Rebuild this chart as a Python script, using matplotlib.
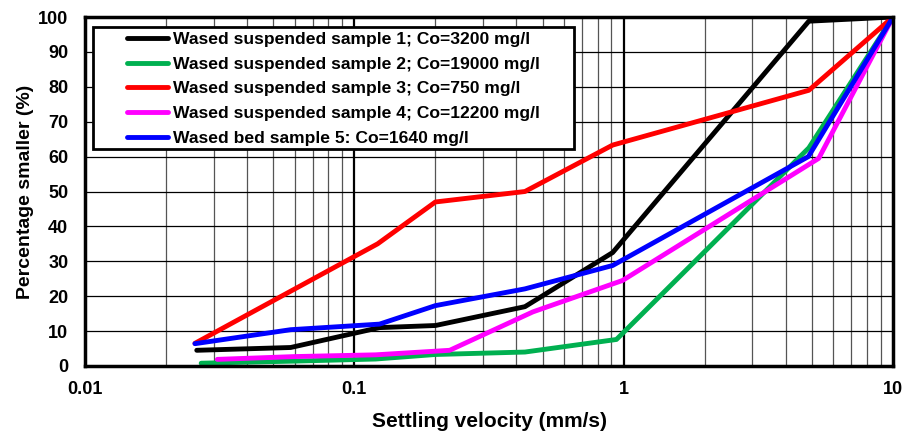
import matplotlib.pyplot as plt
from matplotlib.patches import Rectangle
from matplotlib.legend_handler import HandlerLine2D
from matplotlib.ticker import FixedLocator, FixedFormatter, NullFormatter

plt.rcParams['font.family'] = ['Liberation Sans', 'DejaVu Sans']
plt.rcParams['font.weight'] = 'bold'

v1 = [0.026, 0.058, 0.124, 0.20, 0.43, 0.91, 4.87, 10]
p1 = [4.5, 5.3, 11.0, 11.6, 17.0, 32.5, 98.8, 100]

v2 = [0.027, 0.06, 0.12, 0.20, 0.43, 0.94, 4.87, 10]
p2 = [0.8, 1.4, 2.0, 3.3, 4.0, 7.6, 62.5, 100]

v3 = [0.0256, 0.122, 0.20, 0.43, 0.91, 4.87, 10]
p3 = [6.5, 35.0, 47.0, 50.0, 63.3, 79.0, 100]

v4 = [0.031, 0.06, 0.12, 0.226, 0.46, 0.99, 5.3, 10]
p4 = [1.9, 2.7, 3.2, 4.5, 15.5, 24.5, 59.5, 100]

v5 = [0.0256, 0.058, 0.124, 0.20, 0.43, 0.91, 4.85, 10]
p5 = [6.4, 10.4, 12.0, 17.3, 22.1, 28.8, 60.0, 100]

labels = [
    "Wased suspended sample 1; Co=3200 mg/l",
    "Wased suspended sample 2; Co=19000 mg/l",
    "Wased suspended sample 3; Co=750 mg/l",
    "Wased suspended sample 4; Co=12200 mg/l",
    "Wased bed sample 5: Co=1640 mg/l",
]
colors = ["black", "#00B050", "#FF0000", "#FF00FF", "#0000FF"]

W, H = 908, 434
fig = plt.figure(figsize=(W / 100, H / 100), dpi=100)
ax = fig.add_axes([85 / W, 1 - 366 / H, 808 / W, 349 / H])

# Gitter
for dec in [0.01, 0.1, 1]:
    for k in range(2, 10):
        ax.axvline(dec * k, color="#555555", lw=0.9, zorder=1)
for x in [0.1, 1]:
    ax.axvline(x, color="black", lw=1.6, zorder=1)
for y in range(10, 100, 10):
    ax.axhline(y, color="black", lw=0.9, zorder=1)

lines = []
for v, p, lab, c in zip([v1, v2, v3, v4, v5], [p1, p2, p3, p4, p5], labels, colors):
    ln, = ax.plot(v, p, color=c, lw=3.5, label=lab, zorder=3, solid_capstyle="round")
    lines.append(ln)

ax.set_xscale("log")
ax.set_xlim(0.01, 10)
ax.set_ylim(0, 100)
ax.xaxis.set_major_locator(FixedLocator([0.01, 0.1, 1, 10]))
ax.xaxis.set_major_formatter(FixedFormatter(["0.01", "0.1", "1", "10"]))
ax.xaxis.set_minor_formatter(NullFormatter())
ax.set_yticks(range(0, 101, 10))
ax.tick_params(axis="y", which="both", length=0, labelsize=13, pad=12)
ax.tick_params(axis="x", which="both", length=0, labelsize=13, pad=11)
for lbl in ax.get_xticklabels() + ax.get_yticklabels():
    lbl.set_fontweight("bold")

for s in ax.spines.values():
    s.set_linewidth(2.5)
    s.set_zorder(4)

ax.set_xlabel("Settling velocity (mm/s)", fontsize=15, fontweight="bold", labelpad=10)
ax.set_ylabel("Percentage smaller (%)", fontsize=14, fontweight="bold", labelpad=3)

# Legendenrahmen
box = Rectangle((93 / W, 1 - 149 / H), (574 - 93) / W, (149 - 27) / H,
                transform=fig.transFigure, facecolor="white", edgecolor="black",
                lw=2, zorder=4.5)
ax.add_patch(box)
box.set_clip_on(False)

leg = ax.legend(handles=lines, loc="upper left", bbox_to_anchor=(94 / W, 1 - 28 / H),
                bbox_transform=fig.transFigure, borderaxespad=0, frameon=False,
                prop={"weight": "bold", "size": 12.6},
                handlelength=4.0, handletextpad=0.3, labelspacing=0.55,
                borderpad=0.2,
                handler_map={ln: HandlerLine2D(xpad=1.66) for ln in lines})
leg.set_zorder(5)

fig.savefig("out.png", dpi=100)
